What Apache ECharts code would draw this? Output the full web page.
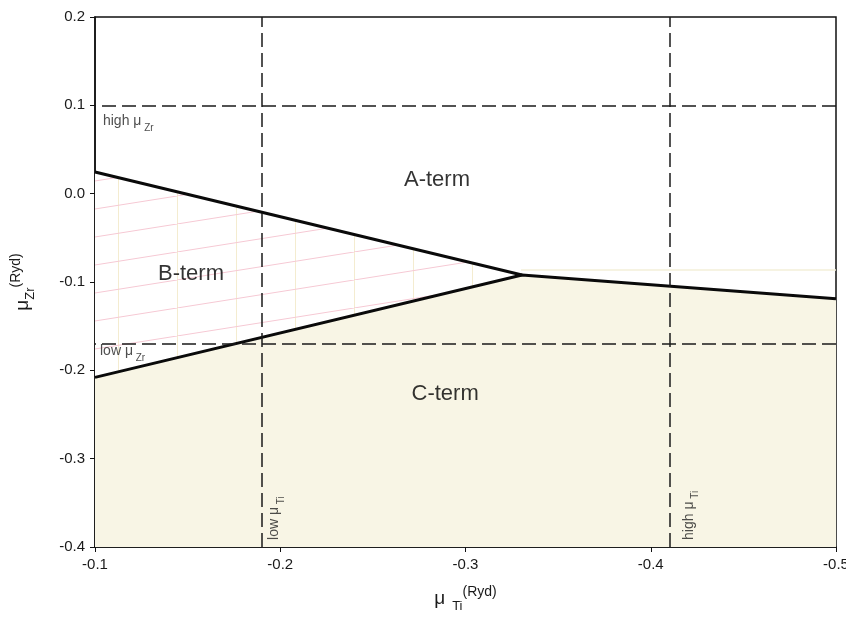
<!DOCTYPE html>
<html>
<head>
<meta charset="utf-8">
<script src="https://cdn.jsdelivr.net/npm/echarts@6/dist/echarts.min.js"></script>
<style>html,body{margin:0;padding:0;background:#fff}#c{width:846px;height:619px}</style>
</head>
<body>
<div id="c"></div>
<script>
// Boundary lines (mu_Ti, mu_Zr) in Ryd
const upperX = [-0.1, -0.3305];
const upperY = [0.0245, -0.092];
const lowerX = [-0.1, -0.3305, -0.5];
const lowerY = [-0.208, -0.092, -0.119];
// Reference (dashed) chemical potential limits
const tiLimits = [-0.188, -0.412];
const zrLimits = [0.1, -0.167];
// Faint guide line
const guideX = [-0.33, -0.5];
const guideY = [-0.0865, -0.0865];
// Region labels
const regionNames = ['A-term', 'B-term', 'C-term'];
const regionX = [-0.2846, -0.1518, -0.289];
const regionY = [0.0154, -0.091, -0.227];
// Limit labels
const limitNames = ['high', 'low', 'low', 'high'];
const limitSubs = ['Zr', 'Zr', 'Ti', 'Ti'];
const limitX = [-0.1043, -0.1027, -0.1965, -0.4205];
const limitY = [0.0822, -0.178, -0.392, -0.392];
const limitRot = [0, 0, 90, 90];
// Axis ticks
const xMin = -0.5, xMax = -0.1, yMin = -0.4, yMax = 0.2, step = 0.1;

function pts(xs, ys) { return xs.map((x, i) => [x, ys[i]]); }

// hatch pattern for B region
const tile = document.createElement('canvas');
tile.width = 177; tile.height = 28;
const g = tile.getContext('2d');
g.fillStyle = '#ffffff'; g.fillRect(0, 0, 177, 28);
g.strokeStyle = '#f4ecd0'; g.lineWidth = 1;
[0.5, 59.5, 118.5].forEach(x => { g.beginPath(); g.moveTo(x, 0); g.lineTo(x, 28); g.stroke(); });
g.strokeStyle = '#f6c9d4'; g.lineWidth = 1;
g.beginPath(); g.moveTo(0, 28); g.lineTo(177, 0); g.stroke();
g.beginPath(); g.moveTo(-177, 28); g.lineTo(0, 0); g.stroke();
g.beginPath(); g.moveTo(177, 28); g.lineTo(354, 0); g.stroke();

const chart = echarts.init(document.getElementById('c'), null, { renderer: 'canvas' });
const txt = '#1a1a1a';
const font = 'Liberation Sans, Arial, sans-serif';

const rich = {
  mu: { fontSize: 19, fontFamily: font, color: txt, lineHeight: 28 },
  sub: { fontSize: 13, fontFamily: font, color: txt, verticalAlign: 'bottom', lineHeight: 28 },
  sup: { fontSize: 14, fontFamily: font, color: txt, verticalAlign: 'top', lineHeight: 28 }
};
const lrich = {
  t: { fontSize: 14, fontFamily: font, color: '#222', lineHeight: 24 },
  m: { fontSize: 14, fontFamily: font, color: '#222', lineHeight: 24 },
  s: { fontSize: 10, fontFamily: font, color: '#222', verticalAlign: 'bottom', lineHeight: 24 }
};

chart.setOption({
  backgroundColor: '#ffffff',
  animation: false,
  grid: { left: 95, right: 10, top: 17, bottom: 72, containLabel: false, outerBoundsMode: 'none', show: true, borderColor: '#111', borderWidth: 1.5, backgroundColor: 'transparent' },
  xAxis: {
    type: 'value', min: xMin, max: xMax, interval: step, inverse: true,
    axisLine: { show: true, onZero: false, lineStyle: { color: '#111', width: 1.5 } },
    axisTick: { show: true, length: 5, lineStyle: { color: '#111' } },
    splitLine: { show: false },
    axisLabel: { color: txt, fontSize: 15, fontFamily: font, margin: 10, formatter: v => v.toFixed(1) },
    name: '{mu|μ} {sub| Ti}{sup|(Ryd)}', nameLocation: 'middle', nameGap: 38,
    nameTextStyle: { rich: rich }
  },
  yAxis: {
    type: 'value', min: yMin, max: yMax, interval: step,
    axisLine: { show: true, onZero: false, lineStyle: { color: '#111', width: 1.5 } },
    axisTick: { show: true, length: 5, lineStyle: { color: '#111' } },
    splitLine: { show: false },
    axisLabel: { color: txt, fontSize: 15, fontFamily: font, margin: 10, formatter: v => v.toFixed(1) },
    name: '{mu|μ}{sub|Zr}{sup|(Ryd)}', nameLocation: 'middle', nameGap: 58, nameRotate: 90,
    nameTextStyle: { rich: rich }
  },
  series: [
    {
      type: 'custom', z: 1, silent: true,
      data: [0],
      renderItem: function (params, api) {
        const poly = [];
        for (let i = 0; i < upperX.length; i++) poly.push(api.coord([upperX[i], upperY[i]]));
        for (let i = 1; i >= 0; i--) poly.push(api.coord([lowerX[i], lowerY[i]]));
        return { type: 'polygon', shape: { points: poly }, style: { fill: { image: tile, repeat: 'repeat' }, stroke: null } };
      }
    },
    {
      type: 'line', z: 2, silent: true, symbol: 'none',
      data: pts(lowerX, lowerY),
      lineStyle: { color: '#0a0a0a', width: 3 },
      areaStyle: { color: '#f8f5e5', opacity: 1, origin: 'start' },
      markLine: {
        silent: true, symbol: 'none', animation: false,
        label: { show: false },
        lineStyle: { color: '#1a1a1a', width: 1.5, type: [14, 6] },
        data: tiLimits.map(v => ({ xAxis: v })).concat(zrLimits.map(v => ({ yAxis: v })))
      }
    },
    {
      type: 'line', z: 2, silent: true, symbol: 'none',
      data: pts(upperX, upperY),
      lineStyle: { color: '#0a0a0a', width: 3 }
    },
    {
      type: 'line', z: 1, silent: true, symbol: 'none',
      data: pts(guideX, guideY),
      lineStyle: { color: '#f3efd8', width: 1.5 }
    },
    {
      type: 'scatter', z: 5, silent: true, symbolSize: 0,
      data: regionNames.map((n, i) => ({ value: [regionX[i], regionY[i]], name: n })),
      label: { show: true, position: 'inside', formatter: p => p.name, color: '#000', fontSize: 22, fontFamily: font }
    },
    {
      type: 'scatter', z: 5, silent: true, symbolSize: 0,
      data: limitNames.map((n, i) => ({
        value: [limitX[i], limitY[i]], name: n,
        label: { rotate: limitRot[i], formatter: '{t|' + n + ' }{m|μ}{s| ' + limitSubs[i] + '}' }
      })),
      label: { show: true, position: 'inside', align: 'left', verticalAlign: 'middle', distance: 0, rich: lrich }
    }
  ]
});
</script>
</body>
</html>
